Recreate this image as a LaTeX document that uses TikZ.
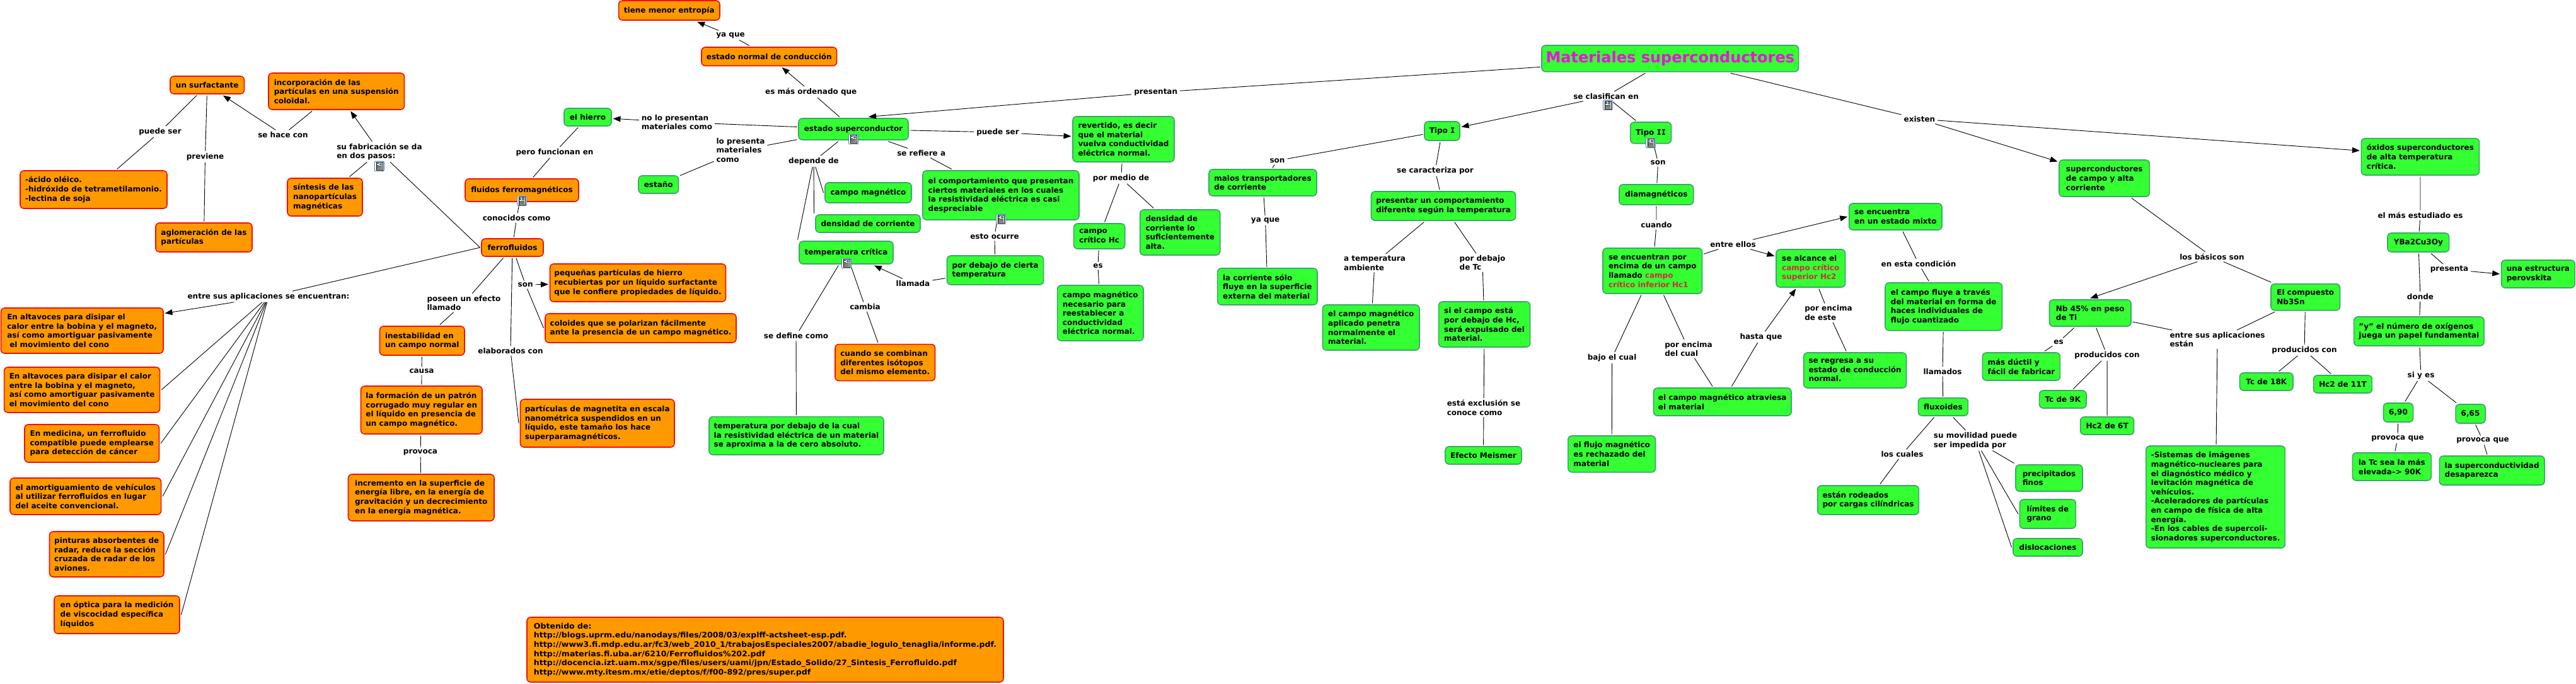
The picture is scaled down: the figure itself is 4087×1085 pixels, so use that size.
\documentclass[tikz,border=0pt]{standalone}
\usepackage{fontspec}
\setmainfont{DejaVu Sans}
\newfontfamily\romanI{DejaVu Sans Mono}
\newfontfamily\widefont[FakeStretch=1.045]{DejaVu Sans}
\usetikzlibrary{arrows.meta}
\definecolor{orfill}{HTML}{FF9900}
\definecolor{orline}{HTML}{F01010}
\definecolor{grfill}{HTML}{33FF33}
\definecolor{grline}{HTML}{3FA56A}
\definecolor{titlecol}{HTML}{EE11DD}
\definecolor{notecol}{HTML}{D8263C}
\definecolor{iconblue}{HTML}{4A7EC8}
\definecolor{iconpaper}{HTML}{FFFFD8}
\tikzset{
  every node/.style={font=\bfseries\fontsize{12}{14.6}\selectfont,text=black},
  rect/.style n args={4}{at={({(#1+#3)/2},{(#2+#4)/2})},minimum width={(#3-#1)*1pt},minimum height={(#4-#2)*1pt}},
  basebox/.style={rounded corners=6pt,line width=1.6pt,inner sep=1pt,outer sep=2.5pt,align=left},
  obox/.style={basebox,fill=orfill,draw=orline},
  gbox/.style={basebox,fill=grfill,draw=grline},
  lbl/.style={inner xsep=2pt,inner ysep=1pt,outer sep=2pt,align=left},
  ln/.style={draw=black,line width=.9pt},
  arr/.style={ln,-{Triangle[length=12pt,width=9pt]}},
  docicon/.pic={
    \draw[draw=iconblue,fill=white,rounded corners=2pt,line width=.9pt] (-7.5,-8) rectangle (7.5,8);
    \draw[draw=black,fill=iconpaper,line width=.5pt] (-5,-6.5) rectangle (5,6.5);
    \fill[iconblue] (0,-5.5) rectangle (4,-1);
    \draw[black,line width=.6pt] (-4,-4.5)--(-1,-4.5) (-4,-2)--(-1,-2) (-4,.5)--(4,.5) (-4,2.5)--(4,2.5) (-4,4.5)--(4,4.5);
  }
}
\begin{document}
\begin{tikzpicture}[x=1pt,y=-1pt]
\useasboundingbox (0,0) rectangle (4087,1085);
% ---------- orange boxes
\node[obox,rect={270}{121}{387.5}{149}] (surf) {un surfactante};
\node[obox,rect={426}{116}{641.5}{174}] (incorp) {incorporación de las\\partículas en una suspensión\\coloidal.};
\node[obox,rect={456}{283}{575}{343}] (sint) {síntesis de las\\nanopartículas\\magnéticas};
\node[obox,rect={32}{271}{265}{331}] (acido) {-ácido oléico.\\-hidróxido de tetrametilamonio.\\-lectina de soja};
\node[obox,rect={247}{354}{400}{400}] (aglom) {aglomeración de las\\partículas};
\node[obox,rect={738}{284}{918}{320}] (fluf) {fluidos ferromagnéticos};
\node[obox,rect={764}{379}{862}{407}] (ferro) {ferrofluidos};
\node[obox,rect={602.5}{518}{737}{564}] (inest) {inestabilidad en\\un campo normal};
\node[obox,rect={572.5}{613}{765}{689}] (patron) {la formación de un patrón\\corrugado muy regular en\\el líquido en presencia de\\un campo magnético.};
\node[obox,rect={552.5}{753}{784}{827}] (increm) {incremento en la superficie de\\energía libre, en la energía de\\gravitación y un decrecimiento\\en la energía magnética.};
\node[obox,rect={1.5}{489}{259}{561}] (alta) {En altavoces para disipar el\\calor entre la bobina y el magneto,\\así como amortiguar pasivamente\\\hspace*{4pt}el movimiento del cono};
\node[obox,rect={6.6}{583}{253.6}{655}] (altb) {En altavoces para disipar el calor\\entre la bobina y el magneto,\\así como amortiguar pasivamente\\el movimiento del cono};
\node[obox,rect={39}{674}{252.5}{734}] (medic) {En medicina, un ferrofluido\\compatible puede emplearse\\para detección de cáncer};
\node[obox,rect={16}{759}{255.6}{817}] (amort) {el amortiguamiento de vehículos\\al utilizar ferrofluidos en lugar\\del aceite convencional.};
\node[obox,rect={78.5}{844}{260}{916}] (pint) {pinturas absorbentes de\\radar, reduce la sección\\cruzada de radar de los\\aviones.};
\node[obox,rect={86}{946}{285}{1006}] (optica) {en óptica para la medición\\de viscocidad específica\\líquidos};
\node[obox,rect={981.6}{1}{1142}{32}] (menor) {tiene menor entropía};
\node[obox,rect={1113}{75}{1327.5}{104.5}] (normal) {estado normal de conducción};
\node[obox,rect={872.5}{419}{1151.5}{479}] (pequen) {pequeñas partículas de hierro\\recubiertas por un líquido surfactante\\que le confiere propiedades de líquido.};
\node[obox,rect={865}{498}{1168}{544}] (coloid) {coloides que se polarizan fácilmente\\ante la presencia de un campo magnético.};
\node[obox,rect={825.5}{634}{1070}{710}] (magnet) {partículas de magnetita en escala\\nanométrica suspendidos en un\\líquido, este tamaño los hace\\superparamagnéticos.};
\node[obox,rect={1325}{546.6}{1483.5}{604.6}] (isot) {cuando se combinan\\diferentes isótopos\\del mismo elemento.};
\node[obox,rect={836}{980}{1592}{1083},font=\widefont\bfseries\fontsize{12}{14.6}\selectfont] (fuente) {Obtenido de:\\http://blogs.uprm.edu/nanodays/files/2008/03/explff-actsheet-esp.pdf.\\http://www3.fi.mdp.edu.ar/fc3/web\_2010\_1/trabajosEspeciales2007/abadie\_logulo\_tenaglia/informe.pdf.\\http://materias.fi.uba.ar/6210/Ferrofluidos\%202.pdf\\http://docencia.izt.uam.mx/sgpe/files/users/uami/jpn/Estado\_Solido/27\_Sintesis\_Ferrofluido.pdf\\http://www.mty.itesm.mx/etie/deptos/f/f00-892/pres/super.pdf};
% ---------- green boxes, left half
\node[gbox,rect={895}{172}{970}{200}] (hierro) {el hierro};
\node[gbox,rect={1267}{188}{1441}{222}] (super) {estado superconductor};
\node[gbox,rect={1013}{279}{1076.5}{307}] (estano) {estaño};
\node[gbox,rect={1309}{290}{1446}{322}] (campom) {campo magnético};
\node[gbox,rect={1294}{341}{1460}{369}] (densc) {densidad de corriente};
\node[gbox,rect={1268}{383}{1417}{419}] (tcrit) {temperatura crítica};
\node[gbox,rect={1464}{271}{1712}{349}] (comport) {el comportamiento que presentan\\ciertos materiales en los cuales\\la resistividad eléctrica es casi\\despreciable};
\node[gbox,rect={1502.5}{406}{1655.6}{452}] (debajo) {por debajo de cierta\\temperatura};
\node[gbox,rect={1125}{661.6}{1402}{722}] (tdef) {temperatura por debajo de la cual\\la resistividad eléctrica de un material\\se aproxima a la de cero absoluto.};
\node[gbox,rect={1702}{185}{1863}{257}] (revert) {revertido, es decir\\que el material\\vuelva conductividad\\eléctrica normal.};
\node[gbox,rect={1703.6}{355}{1784.7}{395}] (hc) {campo\\crítico Hc};
\node[gbox,rect={1808.7}{333}{1935.7}{405}] (denss) {densidad de\\corriente lo\\suficientemente\\alta.};
\node[gbox,rect={1677.6}{453}{1814}{541}] (nece) {campo magnético\\necesario para\\reestablecer a\\conductividad\\eléctrica normal.};
\node[gbox,rect={1918}{269}{2089}{311}] (malos) {malos transportadores\\de corriente};
\node[gbox,rect={1931.6}{426}{2090}{484}] (sololo) {la corriente sólo\\fluye en la superficie\\externa del material};
\node[gbox,rect={2260}{193}{2316}{223}] (tipoa) {Tipo {\romanI I}};
\node[gbox,rect={2175.5}{304}{2404.6}{350}] (compt) {presentar un comportamiento\\diferente según la temperatura};
\node[gbox,rect={2098.5}{484}{2252}{556}] (penet) {el campo magnético\\aplicado penetra\\normalmente el\\material.};
\node[gbox,rect={2282.6}{479}{2427.5}{551}] (expul) {si el campo está\\por debajo de Hc,\\será expulsado del\\material.};
\node[gbox,rect={2293}{709}{2414}{737}] (meis) {Efecto Meismer};
% ---------- green boxes, right half
\node[gbox,rect={2446}{72}{2853.6}{113.7}] (mat) {\fontsize{24}{28}\selectfont\textcolor{titlecol}{Materiales superconductores}};
\node[gbox,rect={2586.7}{194}{2651.5}{227.7}] (tipob) {Tipo {\romanI II}};
\node[gbox,rect={2569}{293}{2686.7}{325}] (diam) {diamagnéticos};
\node[gbox,rect={2543}{394}{2700.5}{466}] (inferior) {se encuentran por\\encima de un campo\\llamado \textcolor{notecol}{campo}\\\textcolor{notecol}{crítico inferior Hc1}};
\node[gbox,rect={2933.7}{323}{3081}{365}] (mixto) {se encuentra\\en un estado mixto};
\node[gbox,rect={2818}{396}{2927.5}{456}] (alcance) {se alcance el\\\textcolor{notecol}{campo crítico}\\\textcolor{notecol}{superior Hc2}};
\node[gbox,rect={2991}{449}{3176.5}{524.7}] (fluye) {el campo fluye a través\\del material en forma de\\haces individuales de\\flujo cuantizado};
\node[gbox,rect={2861.7}{560}{3024.5}{616}] (regresa) {se regresa a su\\estado de conducción\\normal.};
\node[gbox,rect={2623.5}{616}{2842}{660}] (atrav) {el campo magnético atraviesa\\el material};
\node[gbox,rect={2487.8}{692}{2626.5}{749.7}] (rechaz) {el flujo magnético\\es rechazado del\\material};
\node[gbox,rect={3043.4}{632}{3122.4}{660}] (fluxo) {fluxoides};
\node[gbox,rect={2883.7}{771}{3044.4}{817}] (rode) {están rodeados\\por cargas cilíndricas};
\node[gbox,rect={3145.4}{560}{3268.4}{604}] (ductil) {más dúctil y\\fácil de fabricar};
\node[gbox,rect={3267}{254}{3410.4}{312}] (scamp) {superconductores\\de campo y alta\\corriente};
\node[gbox,rect={3251.5}{476}{3381}{518}] (nbti) {Nb 45\% en peso\\de Ti};
\node[gbox,rect={3603}{450.7}{3712.5}{492.7}] (nbsn) {El compuesto\\Nb3Sn};
\node[gbox,rect={3235.6}{620}{3310}{648}] (tcn) {Tc de 9K};
\node[gbox,rect={3300.7}{662}{3385.5}{690}] (hcs) {Hc2 de 6T};
\node[gbox,rect={3553.5}{592}{3638}{620}] (tce) {Tc de 18K};
\node[gbox,rect={3670.6}{596}{3763.4}{624}] (hcm) {Hc2 de 11T};
\node[gbox,rect={3746.4}{219.7}{3933.4}{278}] (oxid) {óxidos superconductores\\de alta temperatura\\crítica.};
\node[gbox,rect={3788}{370}{3885.6}{400}] (ybco) {YBa2Cu3Oy};
\node[gbox,rect={3968.7}{413}{4085}{457}] (perov) {una estructura\\perovskita};
\node[gbox,rect={3734.6}{503}{3941}{549}] (oxig) {"y" el número de oxígenos\\juega un papel fundamental};
\node[gbox,rect={3781.5}{640}{3828.5}{670}] (sn) {6,90};
\node[gbox,rect={3896}{642}{3943}{672}] (ss) {6,65};
\node[gbox,rect={3732.3}{719}{3857.3}{763}] (tcel) {la Tc sea la más\\elevada--> 90K};
\node[gbox,rect={3870.3}{724}{4037}{770}] (desap) {la superconductividad\\desaparezca};
\node[gbox,rect={3198}{738}{3304}{780}] (prec) {precipitados\\finos};
\node[gbox,rect={3204.5}{793}{3293.3}{839}] (lim) {límites de\\grano};
\node[gbox,rect={3194}{855}{3304}{883}] (disl) {dislocaciones};
\node[gbox,rect={3404.8}{708}{3625.4}{870}] (sist) {-Sistemas de imágenes\\magnético-nucleares para\\el diagnóstico médico y\\levitación magnética de\\vehículos.\\-Aceleradores de partículas\\en campo de física de alta\\energía.\\-En los cables de supercoli-\\sionadores superconductores.};
% ---------- link labels
\node[lbl] (lpuede) at (254,209) {puede ser};
\node[lbl] (lprev) at (325.5,249) {previene};
\node[lbl] (lhace) at (449,214) {se hace con};
\node[lbl] (lfab) at (602,241) {su fabricación se da\\en dos pasos:};
\node[lbl] (lapl) at (426,471) {entre sus aplicaciones se encuentran:};
\node[lbl] (lposeen) at (736,481) {poseen un efecto\\llamado};
\node[lbl] (lcausa) at (669,589) {causa};
\node[lbl] (lprovoca) at (667,718) {provoca};
\node[lbl] (lelab) at (810,557) {elaborados con};
\node[lbl] (lconoc) at (819.6,346) {conocidos como};
\node[lbl] (lpero) at (880,242) {pero funcionan en};
\node[lbl] (lson) at (833.7,452) {son};
\node[lbl] (lnolo) at (1074,194) {no lo presentan\\materiales como};
\node[lbl] (llo) at (1175,238.5) {lo presenta\\materiales\\como};
\node[lbl] (lyaq) at (1159,56) {ya que};
\node[lbl] (lmas) at (1286.7,146) {es más ordenado que};
\node[lbl] (ldep) at (1291,256) {depende de};
\node[lbl] (lref) at (1461.7,243) {se refiere a};
\node[lbl] (lesto) at (1578,375) {esto ocurre};
\node[lbl] (lllam) at (1448.5,450) {llamada};
\node[lbl] (lcambia) at (1372.5,487) {cambia};
\node[lbl] (ldef) at (1263,533) {se define como};
\node[lbl] (lpser) at (1583,210) {puede ser};
\node[lbl] (lpres) at (1833.7,146.7) {presentan};
\node[lbl] (lmedio) at (1778.6,283) {por medio de};
\node[lbl] (les) at (1742,422) {es};
\node[lbl] (lsona) at (2026.5,255) {son};
\node[lbl] (lyab) at (2007.6,350) {ya que};
\node[lbl] (lcarac) at (2277,271) {se caracteriza por};
\node[lbl] (ltamb) at (2181,417.7) {a temperatura\\ambiente};
\node[lbl] (ldtc) at (2352,417) {por debajo\\de Tc};
\node[lbl] (lexcl) at (2354,647) {está exclusión se\\conoce como};
\node[lbl] (lclas) at (2548,153) {se clasifican en};
\node[lbl] (lexis) at (3045.4,189) {existen};
\node[lbl] (lsonb) at (2630.6,258) {son};
\node[lbl] (lcuando) at (2628,357) {cuando};
\node[lbl] (lentre) at (2749.5,388) {entre ellos};
\node[lbl] (lcond) at (3044,418.7) {en esta condición};
\node[lbl] (leste) at (2901,496.7) {por encima\\de este};
\node[lbl] (lhasta) at (2794,535) {hasta que};
\node[lbl] (ldelc) at (2679,554) {por encima\\del cual};
\node[lbl] (lbajo) at (2557.6,568) {bajo el cual};
\node[lbl] (lllamd) at (3082,590) {llamados};
\node[lbl] (lcual) at (3018,721) {los cuales};
\node[lbl] (lmov) at (3134,699.4) {su movilidad puede\\ser impedida por};
\node[lbl] (lese) at (3266,543) {es};
\node[lbl] (lprod) at (3343,564) {producidos con};
\node[lbl] (lbas) at (3509.4,407.7) {los básicos son};
\node[lbl] (lapb) at (3518,539) {entre sus aplicaciones\\están};
\node[lbl] (lprodb) at (3656,556) {producidos con};
\node[lbl] (lest) at (3840,341.7) {el más estudiado es};
\node[lbl] (lprsa) at (3886,427.7) {presenta};
\node[lbl] (ldonde) at (3840,471) {donde};
\node[lbl] (lsiy) at (3841,596) {si y es};
\node[lbl] (lpqa) at (3804,696) {provoca que};
\node[lbl] (lpqb) at (3939,699) {provoca que};
% ---------- plain connectors
\foreach \a/\b in {
  surf/lpuede,lpuede/acido,surf/lprev,lprev/aglom,incorp/lhace,lfab/sint,
  ferro.west/lfab,ferro.west/lapl,altb.east/lapl,medic.east/lapl,amort.east/lapl,pint.east/lapl,optica.east/lapl,
  ferro/lposeen,lposeen/inest,inest/lcausa,lcausa/patron,patron/lprovoca,lprovoca/increm,
  ferro/lelab,lelab/magnet.west,ferro/lson,lson/coloid.west,
  hierro/lpero,lpero/fluf,fluf/lconoc,lconoc/ferro,
  normal/lyaq,super/lmas,super/lnolo,super/llo,llo/estano,
  super/ldep,ldep/campom.west,ldep/densc.north west,ldep/tcrit.north west,
  super/lref,lref/comport,comport/lesto,lesto/debajo,debajo/lllam,
  tcrit/lcambia,lcambia/isot,tcrit/ldef,ldef/tdef,super/lpser,
  mat/lpres,revert/lmedio,lmedio/hc,lmedio/denss,hc/les,les/nece,
  mat/lclas,lclas/tipob,tipoa/lsona,lsona/malos,malos/lyab,lyab/sololo,
  tipoa/lcarac,lcarac/compt,compt/ltamb,ltamb/penet,compt/ldtc,ldtc/expul,expul/lexcl,lexcl/meis,
  tipob/lsonb,lsonb/diam,diam/lcuando,lcuando/inferior,inferior/lentre,
  inferior/lbajo,lbajo/rechaz,inferior/ldelc,ldelc/atrav,atrav/lhasta,
  alcance/leste,leste/regresa,mixto/lcond,lcond/fluye,fluye/lllamd,lllamd/fluxo,
  fluxo/lcual,lcual/rode,fluxo/lmov,lmov/prec.north west,lmov/lim.west,lmov/disl.west,
  mat/lexis,scamp/lbas,lbas/nbsn,nbti/lese,lese/ductil,nbti/lprod,lprod/tcn,lprod/hcs,
  nbti/lapb,nbsn/lapb,lapb/sist,nbsn/lprodb,lprodb/tce,lprodb/hcm,
  oxid/lest,lest/ybco,ybco/lprsa,ybco/ldonde,ldonde/oxig,oxig/lsiy,lsiy/sn,lsiy/ss,
  sn/lpqa,lpqa/tcel,ss/lpqb,lpqb/desap}
  {\draw[ln] (\a) -- (\b);}
% ---------- connectors with arrowheads
\foreach \a/\b in {
  lhace/surf,lfab/incorp,lson/pequen,lnolo/hierro,lyaq/menor,lmas/normal,lllam/tcrit,lpser/revert,
  lclas/tipoa,lhasta/alcance,lentre/mixto.west,lbas/nbti.north,lprsa/perov.west}
  {\draw[arr] (\a) -- (\b);}
\draw[arr] (lapl) -- ([yshift=-11pt]alta.north east);
\draw[arr] (lpres) -- ([xshift=24pt]super.north);
\draw[arr] (lentre) -- ([yshift=-13pt]alcance.north west);
\draw[arr] (lexis) -- ([yshift=-5pt]scamp.north west);
\draw[arr] (lexis) -- ([yshift=-22pt]oxid.north west);
% ---------- document icons
\foreach \px/\py in {828/318.7,601.8/264,1354/221,1588/348,1343/418,2551/166.7,2619/227}
  {\pic at (\px,\py) {docicon};}
\end{tikzpicture}
\end{document}
